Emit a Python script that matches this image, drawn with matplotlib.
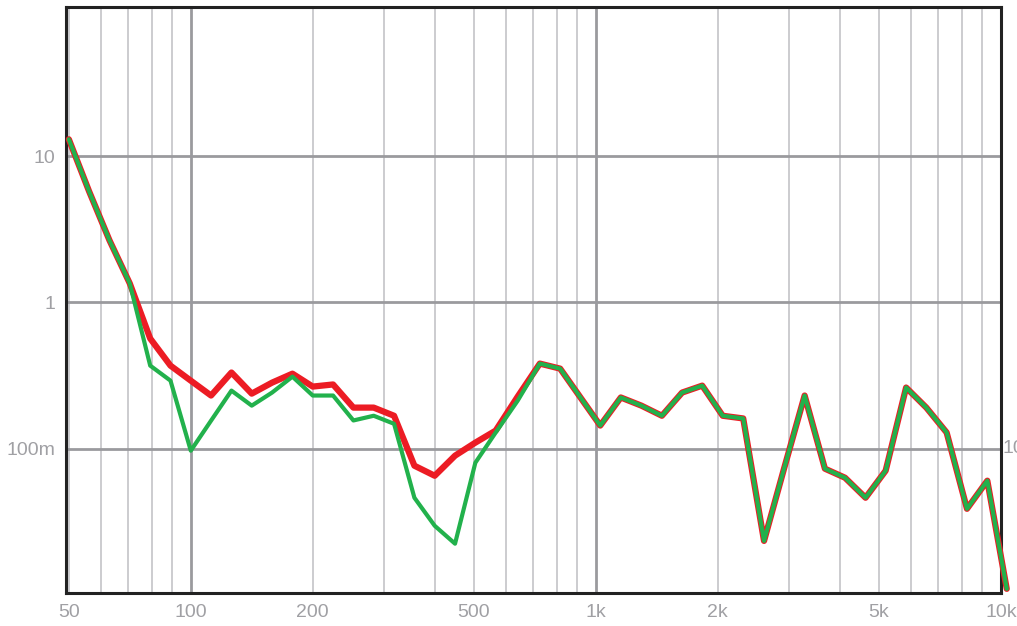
import matplotlib
matplotlib.use("Agg")
import matplotlib.pyplot as plt
import matplotlib.ticker as mticker
import matplotlib.transforms as mtransforms

# analysis frequencies (Hz), roughly 1/6 octave
freqs = [50, 56.1, 63, 70.7, 79.4, 89.1, 100, 112.2, 126, 141.4, 158.7, 178.2,
         200, 224.5, 252, 282.8, 317.5, 356.4, 400, 449, 504, 565.7, 641, 727,
         816, 916, 1025, 1152, 1295, 1455, 1632, 1830, 2056, 2310, 2600, 2915,
         3275, 3675, 4120, 4630, 5190, 5830, 6540, 7340, 8240, 9250, 10330]

red_vals = [13.07, 5.76, 2.66, 1.35, 0.567, 0.370, 0.292, 0.231, 0.332, 0.238,
            0.283, 0.326, 0.266, 0.275, 0.191, 0.191, 0.168, 0.0765, 0.0653, 0.0896,
            0.110, 0.133, 0.227, 0.382, 0.353, 0.224, 0.144, 0.224, 0.197, 0.168,
            0.242, 0.270, 0.168, 0.161, 0.0234, 0.0735, 0.231, 0.073, 0.0633, 0.0462,
            0.0707, 0.262, 0.191, 0.129, 0.0388, 0.0604, 0.0110]

green_vals = [13.07, 5.76, 2.66, 1.35, 0.370, 0.292, 0.0969, 0.1555, 0.2496, 0.197,
              0.242, 0.311, 0.231, 0.231, 0.156, 0.168, 0.148, 0.0462, 0.0297, 0.0224,
              0.0802, 0.129, 0.213, 0.382, 0.353, 0.224, 0.144, 0.224, 0.197, 0.168,
              0.242, 0.270, 0.168, 0.161, 0.0234, 0.0735, 0.231, 0.073, 0.0633, 0.0462,
              0.0707, 0.262, 0.191, 0.129, 0.0388, 0.0604, 0.0110]

x_ticks = [50, 100, 200, 500, 1000, 2000, 5000, 10000]
x_labels = ["50", "100", "200", "500", "1k", "2k", "5k", "10k"]
y_ticks = [10, 1, 0.1]
y_labels = ["10", "1", "100m"]

plt.rcParams["font.family"] = ["Liberation Sans", "DejaVu Sans"]

fig = plt.figure(figsize=(10.17, 6.26), dpi=100)
ax = fig.add_axes([0.0649, 0.0527, 0.9194, 0.9361])

ax.set_xscale("log")
ax.set_yscale("log")
ax.set_xlim(49.2, 10000)
ax.set_ylim(0.0103, 105)

# grid: minor verticals light, decades dark
minor_x = [50, 60, 70, 80, 90, 200, 300, 400, 500, 600, 700, 800, 900,
           2000, 3000, 4000, 5000, 6000, 7000, 8000, 9000]
for xv in minor_x:
    ax.axvline(xv, color="#c8c8cc", lw=1.3, zorder=1)
for xv in [100, 1000]:
    ax.axvline(xv, color="#9a9a9e", lw=2.0, zorder=1)
for yv in y_ticks:
    ax.axhline(yv, color="#9a9a9e", lw=2.0, zorder=1)

ax.plot(freqs, red_vals, color="#ec1c24", lw=4.5, zorder=5, clip_on=False,
        solid_joinstyle="round", solid_capstyle="round")
ax.plot(freqs, green_vals, color="#22b14c", lw=3.0, zorder=6, clip_on=False,
        solid_joinstyle="round", solid_capstyle="round")

ax.xaxis.set_major_locator(mticker.FixedLocator(x_ticks))
ax.xaxis.set_major_formatter(mticker.FixedFormatter(x_labels))
ax.xaxis.set_minor_locator(mticker.NullLocator())
ax.yaxis.set_major_locator(mticker.FixedLocator(y_ticks))
ax.yaxis.set_major_formatter(mticker.FixedFormatter(y_labels))
ax.yaxis.set_minor_locator(mticker.NullLocator())
ax.tick_params(axis="both", length=0, labelsize=14, labelcolor="#a0a0a4")
ax.tick_params(axis="x", pad=8)
ax.tick_params(axis="y", pad=8)

for sp in ax.spines.values():
    sp.set_color("#222222")
    sp.set_linewidth(2.2)
    sp.set_zorder(4)

# right side label, cut off by the figure edge as in the original
trans = mtransforms.blended_transform_factory(ax.transAxes, ax.transData)
ax.text(1.002, 0.1, "100m", transform=trans, ha="left", va="center",
        fontsize=14, color="#a0a0a4", clip_on=False)

fig.savefig("out.png", dpi=100)
